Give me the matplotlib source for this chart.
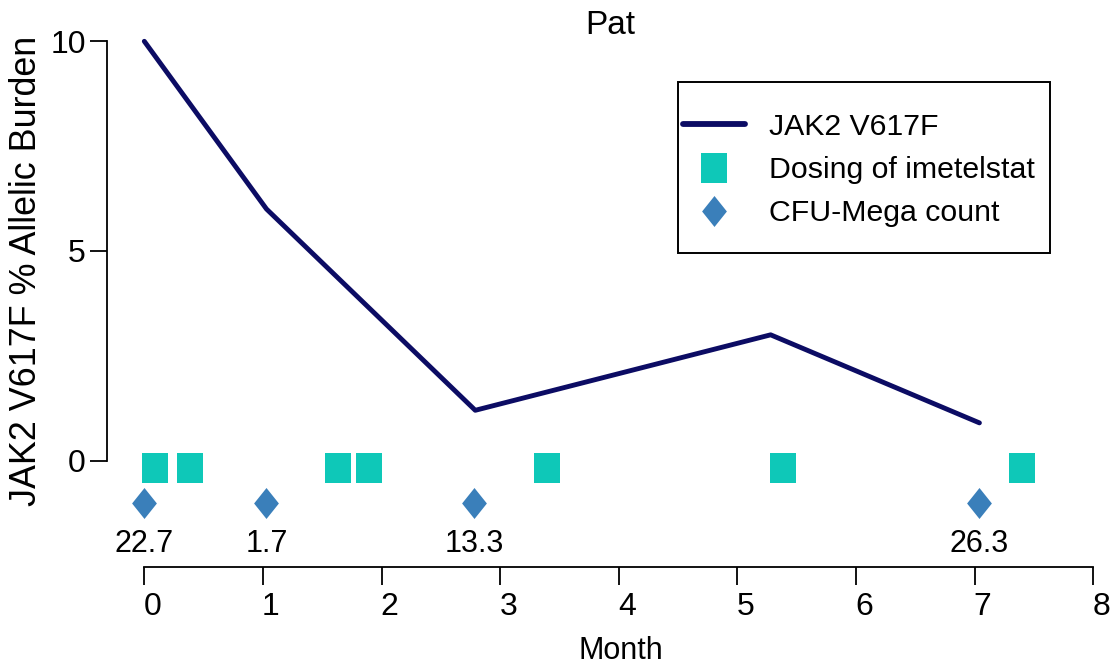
import numpy as np
import matplotlib
matplotlib.use("Agg")
import matplotlib.pyplot as plt
import matplotlib.transforms as mtransforms
from matplotlib.path import Path
from matplotlib.patches import Rectangle

plt.rcParams["font.family"] = ["Liberation Sans", "DejaVu Sans"]

# data
months_jak2 = [0, 1.03, 2.79, 5.28, 7.04]
jak2_burden = [10, 6.0, 1.2, 3.0, 0.9]

months_dose = [0.09, 0.385, 1.635, 1.895, 3.395, 5.385, 7.395]
dose_level = [-0.17] * len(months_dose)

months_cfu = [0, 1.03, 2.78, 7.04]
cfu_level = [-1.0] * len(months_cfu)
cfu_counts = ["22.7", "1.7", "13.3", "26.3"]

x_ticks = [0, 1, 2, 3, 4, 5, 6, 7, 8]
y_ticks = [0, 5, 10]

# colours
c_line = "#0c0c64"
c_dose = "#0ec8b8"
c_cfu = "#3a7fba"

# slightly tall rectangle and diamond markers
rect = Path([(-0.87, -1), (0.87, -1), (0.87, 1), (-0.87, 1), (-0.87, -1)],
            [Path.MOVETO, Path.LINETO, Path.LINETO, Path.LINETO, Path.CLOSEPOLY])
diam = Path([(0, 1), (0.8, 0), (0, -1), (-0.8, 0), (0, 1)],
            [Path.MOVETO, Path.LINETO, Path.LINETO, Path.LINETO, Path.CLOSEPOLY])

W, H = 1111, 664
fig = plt.figure(figsize=(W / 100, H / 100), dpi=100)
ax = fig.add_axes([106.7 / W, 1 - 566.7 / H, (1093.3 - 106.7) / W, (566.7 - 41.3) / H])

ax.plot(months_jak2, jak2_burden, color=c_line, lw=3.5, solid_capstyle="round",
        solid_joinstyle="round", label="JAK2 V617F", clip_on=False, zorder=3)
ax.plot(months_dose, dose_level, ls="none", marker=rect, ms=21.6, mew=0,
        color=c_dose, label="Dosing of imetelstat", clip_on=False)
ax.plot(months_cfu, cfu_level, ls="none", marker=diam, ms=22.3, mew=0,
        color=c_cfu, label="CFU-Mega count", clip_on=False)

for xx, lab in zip(months_cfu, cfu_counts):
    ax.text(xx, -2.17, lab, ha="center", va="baseline", fontsize=22)

ax.set_xlim(-0.317, 8.0)
ax.set_ylim(-2.53, 10)
ax.set_xticks(x_ticks)
ax.set_yticks(y_ticks)
ax.set_xticklabels([str(t) for t in x_ticks])
ax.set_yticklabels([str(t) for t in y_ticks])

for s in ["top", "right"]:
    ax.spines[s].set_visible(False)
ax.spines["left"].set_bounds(0, 10)
ax.spines["bottom"].set_bounds(0, 8)
for s in ["left", "bottom"]:
    ax.spines[s].set_linewidth(1.3)

ax.tick_params(axis="x", length=13, width=1.3, pad=5, labelsize=23)
ax.tick_params(axis="y", length=12, width=1.3, pad=3, labelsize=23)

# x tick labels sit a bit right of the ticks in the original
off = mtransforms.ScaledTranslation(8 / 100, 0, fig.dpi_scale_trans)
for lbl in ax.get_xticklabels():
    lbl.set_transform(lbl.get_transform() + off)

fig.text(610 / W, 1 - 25.5 / H, "Pat", ha="center", va="center", fontsize=24)
fig.text(620.7 / W, 1 - 659 / H, "Month", ha="center", va="baseline", fontsize=22)
fig.text(27 / W, 1 - 271 / H, "JAK2 V617F % Allelic Burden", ha="center", va="center",
         rotation=90, fontsize=25.8)

# legend without its own frame; box drawn separately
leg = ax.legend(loc="upper left", bbox_to_anchor=(683 / W, 1 - 113 / H),
                bbox_transform=fig.transFigure, fontsize=21.8, frameon=False,
                handlelength=2.05, handletextpad=0.8, borderpad=0,
                labelspacing=0.5, borderaxespad=0)
leg.get_lines()[0].set_solid_capstyle("round")
leg.get_lines()[0].set_linewidth(4.2)
fig.patches.append(Rectangle((678 / W, 1 - 253 / H), (1050 - 678) / W, (253 - 82) / H,
                             transform=fig.transFigure, fill=False, lw=1.4,
                             edgecolor="black"))

fig.savefig("out.png", dpi=100)
